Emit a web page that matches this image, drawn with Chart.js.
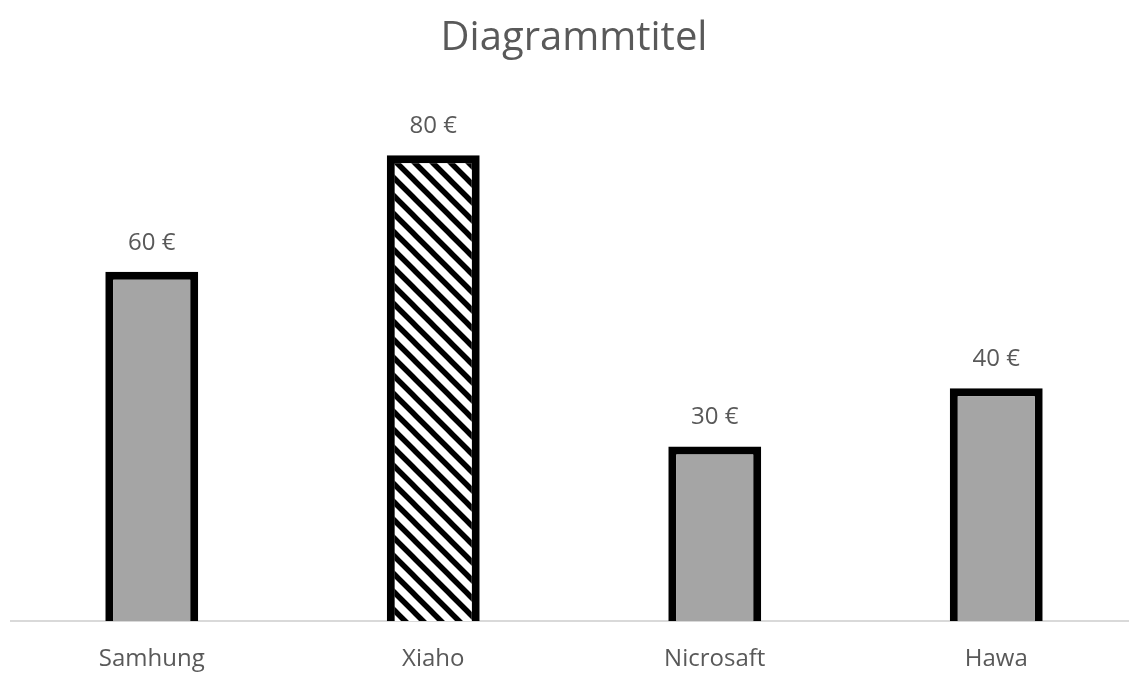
<!DOCTYPE html>
<html>
<head>
<meta charset="utf-8">
<script src="https://cdn.jsdelivr.net/npm/chart.js@4"></script>
<style>
  html, body { margin: 0; padding: 0; background: #fff; overflow: hidden; }
  #wrap { width: 1137px; height: 698px; position: relative; }
</style>
</head>
<body>
<div id="wrap"><canvas id="barChart"></canvas></div>
<script>
// chart data
const categories = ['Samhung', 'Xiaho', 'Nicrosaft', 'Hawa'];
const prices = [60, 80, 30, 40];
const hatchedIndex = 1; // Xiaho gets the striped fill

const textGray = '#595959';
const fontFamily = "'Open Sans', 'Noto Sans', sans-serif";

// diagonal stripes like the Excel pattern fill
function makeHatch() {
    const size = 18;
    const c = document.createElement('canvas');
    c.width = size;
    c.height = size;
    const g = c.getContext('2d');
    g.fillStyle = '#fff';
    g.fillRect(0, 0, size, size);
    g.strokeStyle = '#000';
    g.lineWidth = 5.5;
    g.beginPath();
    for (let k = -1; k <= 1; k++) {
        // extend past the tile so the joins are seamless
        g.moveTo(k * size - size, -size);
        g.lineTo(k * size + 2 * size, 2 * size);
    }
    g.stroke();
    const ctx = document.getElementById('barChart').getContext('2d');
    return ctx.createPattern(c, 'repeat');
}

const fills = prices.map((v, i) => i === hatchedIndex ? makeHatch() : '#a5a5a5');

// value labels above the bars
const valueLabels = {
    id: 'valueLabels',
    afterDatasetsDraw(chart) {
        const ctx = chart.ctx;
        const meta = chart.getDatasetMeta(0);
        ctx.save();
        ctx.font = '24px ' + fontFamily;
        ctx.fillStyle = textGray;
        ctx.textAlign = 'center';
        ctx.textBaseline = 'middle';
        meta.data.forEach((bar, i) => {
            ctx.fillText(chart.data.datasets[0].data[i] + ' €', bar.x, bar.y - 29);
        });
        ctx.restore();
    }
};

new Chart(document.getElementById('barChart'), {
    type: 'bar',
    data: {
        labels: categories,
        datasets: [{
            data: prices,
            backgroundColor: fills,
            borderColor: '#000',
            borderWidth: { top: 8, left: 8, right: 8, bottom: 0 },
            borderSkipped: false,
            barPercentage: 0.33,
            categoryPercentage: 1.0
        }]
    },
    options: {
        responsive: true,
        maintainAspectRatio: false,
        animation: false,
        layout: { padding: { left: 11, right: 0, top: 0, bottom: 0 } },
        scales: {
            x: {
                grid: { display: false, drawTicks: false },
                border: { color: '#d9d9d9', width: 2 },
                ticks: {
                    color: textGray,
                    font: { family: fontFamily, size: 24 },
                    padding: 24
                }
            },
            y: {
                display: false,
                min: 0,
                max: 95
            }
        },
        plugins: {
            legend: { display: false },
            tooltip: { enabled: false },
            title: {
                display: true,
                text: 'Diagrammtitel',
                color: textGray,
                font: { family: fontFamily, size: 40, weight: 'normal' },
                padding: { top: 15, bottom: 5 }
            }
        }
    },
    plugins: [valueLabels]
});
</script>
</body>
</html>
